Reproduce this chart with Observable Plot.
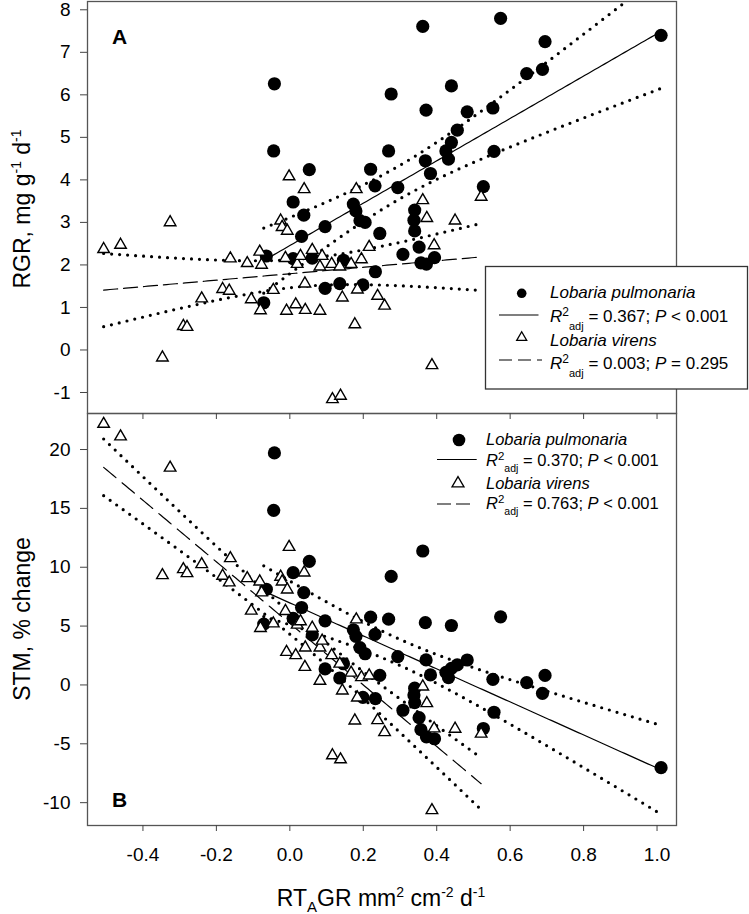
<!DOCTYPE html>
<html>
<head>
<meta charset="utf-8">
<script src="https://cdn.jsdelivr.net/npm/d3@7"></script>
<script src="https://cdn.jsdelivr.net/npm/@observablehq/plot@0.6"></script>
<style>
  body { margin: 0; background: #fff; }
  #fig { position: relative; width: 749px; height: 914px; font-family: "Liberation Sans", Arial, sans-serif; }
  #fig > svg { position: absolute; left: 0; }
</style>
</head>
<body>
<div id="fig"></div>
<script>
// Relative thallus area growth rate (RTAGR) for each thallus
const pulmonariaRTAGR = [-0.071, -0.064, -0.042, -0.044, 0.009, 0.009, 0.032, 0.038, 0.053, 0.061,
  0.096, 0.096, 0.136, 0.146, 0.173, 0.180, 0.191, 0.199, 0.205, 0.220,
  0.232, 0.233, 0.245, 0.269, 0.276, 0.294, 0.308, 0.340, 0.338, 0.340,
  0.352, 0.357, 0.362, 0.372, 0.369, 0.371, 0.383, 0.394, 0.425, 0.432,
  0.440, 0.440, 0.456, 0.483, 0.527, 0.553, 0.556, 0.574, 0.645, 0.688,
  0.695, 1.011];
// Relative growth rate (mg g-1 d-1)
const pulmonariaRGR = [1.11, 2.21, 6.26, 4.68, 3.48, 2.15, 2.67, 3.17, 4.24, 2.16,
  2.90, 1.45, 1.56, 2.11, 3.43, 3.27, 3.04, 1.53, 3.00, 4.25,
  3.86, 1.84, 2.74, 4.68, 6.02, 3.82, 2.25, 3.29, 3.05, 2.80,
  2.42, 2.05, 7.61, 2.02, 4.45, 5.64, 4.15, 2.17, 4.68, 4.49,
  4.88, 6.21, 5.17, 5.60, 3.84, 5.69, 4.67, 7.80, 6.50, 6.60,
  7.25, 7.40];
// Specific thallus mass, % change
const pulmonariaSTM = [5.17, 8.13, 19.71, 14.83, 9.54, 5.66, 6.58, 7.85, 10.50, 4.25,
  5.45, 1.36, 0.59, 1.80, 4.68, 4.13, 3.17, -1.05, 2.65, 5.76,
  4.29, -1.16, 0.82, 5.59, 9.22, 2.40, -2.15, -0.27, -0.85, -1.50,
  -2.78, -3.80, 11.38, -4.41, 5.29, 2.13, 0.85, -4.57, 1.07, 0.62,
  1.41, 5.05, 1.70, 2.12, -3.70, 0.48, -2.32, 5.79, 0.20, -0.71,
  0.81, -7.03];

const virensRTAGR = [-0.507, -0.461, -0.326, -0.347, -0.290, -0.280, -0.240, -0.183, -0.165, -0.162,
  -0.116, -0.105, -0.082, -0.077, -0.080, -0.045, -0.025, -0.021, -0.007, -0.002,
  -0.012, -0.009, 0.016, 0.020, 0.029, 0.039, 0.041, 0.042, 0.061, 0.082,
  0.088, 0.082, 0.114, 0.116, 0.136, 0.138, 0.143, 0.167, 0.177, 0.181,
  0.184, 0.195, 0.216, 0.239, 0.258, 0.362, 0.373, 0.387, 0.393, 0.450,
  0.521];
const virensRGR = [2.37, 2.47, 3.00, -0.18, 0.56, 0.54, 1.21, 1.43, 1.39, 2.15,
  2.04, 1.19, 2.31, 2.00, 0.93, 1.41, 3.04, 2.89, 2.80, 4.08,
  2.16, 0.92, 1.07, 2.02, 2.21, 3.78, 1.56, 0.94, 2.35, 1.96,
  2.21, 0.92, 2.02, -1.16, 1.96, -1.08, 1.23, 2.02, 0.60, 3.78,
  1.42, 2.13, 2.42, 1.27, 1.04, 3.52, 3.10, -0.36, 2.46, 3.04,
  3.60];
const virensSTM = [22.17, 21.10, 18.45, 9.32, 9.83, 9.49, 10.25, 9.26, 8.70, 10.76,
  9.06, 6.30, 8.78, 7.85, 4.83, 5.22, 9.18, 8.78, 8.10, 11.72,
  6.27, 2.80, 2.52, 5.11, 5.40, 9.54, 1.52, 3.17, 4.85, 3.17,
  3.75, 0.34, 2.52, -5.99, 1.80, -6.33, -0.48, 1.03, -3.03, 5.56,
  -1.08, 0.65, 0.79, -3.00, -4.02, -0.14, -1.56, -10.65, -3.70, -3.73,
  -4.15];

// Axis ticks
const xTicks = [-0.4, -0.2, 0.0, 0.2, 0.4, 0.6, 0.8, 1.0];
const rgrTicks = [-1, 0, 1, 2, 3, 4, 5, 6, 7, 8];
const stmTicks = [-10, -5, 0, 5, 10, 15, 20];

// Fit statistics printed in the legends
const rgrStats = [["0.367", "<", "0.001"], ["0.003", "=", "0.295"]];
const stmStats = [["0.370", "<", "0.001"], ["0.763", "<", "0.001"]];

const T95 = 2.01; // two-sided 95% Student t, ~50 degrees of freedom
const FONT = "Liberation Sans, Arial, sans-serif";

// Least-squares line with 95% confidence band for the mean response
function regression(xs, ys) {
  const n = xs.length;
  const mx = d3.mean(xs), my = d3.mean(ys);
  const sxx = d3.sum(xs, x => (x - mx) ** 2);
  const sxy = d3.sum(xs, (x, i) => (x - mx) * (ys[i] - my));
  const b = sxy / sxx, a = my - b * mx;
  const s = Math.sqrt(d3.sum(xs, (x, i) => (ys[i] - a - b * x) ** 2) / (n - 2));
  const [x0, x1] = d3.extent(xs);
  return d3.range(121).map(i => {
    const x = x0 + (x1 - x0) * i / 120;
    const yhat = a + b * x;
    const h = T95 * s * Math.sqrt(1 / n + (x - mx) ** 2 / sxx);
    return {x, yhat, lo: yhat - h, hi: yhat + h};
  });
}

const rows = (xs, ys) => xs.map((x, i) => ({x, y: ys[i]}));

const dotted = {stroke: "#000", strokeWidth: 3.2, strokeDasharray: "0 8", strokeLinecap: "round", clip: true};

function panel({yDomain, yTicks, pulY, virY, height, marginTop, marginBottom, dash, xAxis}) {
  const pf = regression(pulmonariaRTAGR, pulY);
  const vf = regression(virensRTAGR, virY);
  return Plot.plot({
    width: 749, height, marginLeft: 87, marginRight: 73, marginTop, marginBottom,
    x: {domain: [-0.551, 1.053]},
    y: {domain: yDomain},
    style: {background: "none", overflow: "visible", fontFamily: FONT},
    marks: [
      Plot.line(vf, {x: "x", y: "lo", ...dotted}),
      Plot.line(vf, {x: "x", y: "hi", ...dotted}),
      Plot.line(vf, {x: "x", y: "yhat", stroke: "#000", strokeWidth: 1.2, strokeDasharray: dash, clip: true}),
      Plot.line(pf, {x: "x", y: "lo", ...dotted}),
      Plot.line(pf, {x: "x", y: "hi", ...dotted}),
      Plot.line(pf, {x: "x", y: "yhat", stroke: "#000", strokeWidth: 1.2, clip: true}),
      Plot.dot(rows(pulmonariaRTAGR, pulY), {x: "x", y: "y", r: 6.6, fill: "#000", stroke: "none"}),
      Plot.dot(rows(virensRTAGR, virY), {x: "x", y: "y", symbol: "triangle", r: 4.3, fill: "#fff", stroke: "#000", strokeWidth: 1.4}),
      Plot.frame({stroke: "#555", strokeWidth: 1.3}),
      Plot.axisY(yTicks, {tickSize: 7, tickPadding: 10, fontSize: 19, stroke: "#444", tickFormat: d => String(d), label: null}),
      xAxis
    ]
  });
}

const fig = document.getElementById("fig");

// Panel B: STM, with the shared RTAGR axis underneath
const svgB = panel({
  yDomain: [-11.94, 23.06], yTicks: stmTicks, pulY: pulmonariaSTM, virY: virensSTM,
  height: 501, marginTop: 0, marginBottom: 89, dash: "16 8",
  xAxis: Plot.axisX(xTicks, {anchor: "bottom", tickSize: 6, tickPadding: 16, fontSize: 19, stroke: "#444", tickFormat: d => d.toFixed(1), label: null})
});
svgB.style.top = "413px";
fig.appendChild(svgB);

// Panel A: RGR, ticks only on its lower edge
const svgA = panel({
  yDomain: [-1.494, 8.195], yTicks: rgrTicks, pulY: pulmonariaRGR, virY: virensRGR,
  height: 420, marginTop: 1, marginBottom: 7, dash: "14 6",
  xAxis: Plot.axisX(xTicks, {anchor: "bottom", tickSize: 6, stroke: "#444", tickFormat: () => "", label: null})
});
svgA.style.top = "0px";
fig.appendChild(svgA);

// Annotation layer: axis titles, panel letters and legends
function statLine(x, y, size, subSize, drop, [r2, op, p]) {
  return `<text x="${x}" y="${y}" font-size="${size}"><tspan font-style="italic">R</tspan><tspan dy="-6" font-size="${subSize}">2</tspan><tspan dy="${6 + drop}" font-size="${subSize - 1}">adj</tspan><tspan dy="${-drop}"> = ${r2}; </tspan><tspan font-style="italic">P</tspan><tspan> ${op === "<" ? "&lt;" : op} ${p}</tspan></text>`;
}
function tri(cx, cy, side) {
  const h = side * Math.sqrt(3) / 2;
  return `<path d="M${cx},${cy - h * 2 / 3}L${cx + side / 2},${cy + h / 3}L${cx - side / 2},${cy + h / 3}Z" fill="#fff" stroke="#000" stroke-width="1.3"/>`;
}

const overlay = `
<svg width="749" height="914" style="top:0" font-family="${FONT}" fill="#000">
  <text transform="translate(30,209) rotate(-90)" text-anchor="middle" font-size="23">RGR, mg g<tspan dy="-9" font-size="14">-1</tspan><tspan dy="9"> d</tspan><tspan dy="-9" font-size="14">-1</tspan></text>
  <text transform="translate(30,619) rotate(-90)" text-anchor="middle" font-size="23">STM, % change</text>
  <text x="381" y="906" text-anchor="middle" font-size="23">RT<tspan dy="6" font-size="15">A</tspan><tspan dy="-6">GR mm</tspan><tspan dy="-9" font-size="14">2</tspan><tspan dy="9"> cm</tspan><tspan dy="-9" font-size="14">-2</tspan><tspan dy="9"> d</tspan><tspan dy="-9" font-size="14">-1</tspan></text>
  <text x="112" y="43.5" font-size="21" font-weight="bold">A</text>
  <text x="112" y="806.5" font-size="21" font-weight="bold">B</text>

  <rect x="485.5" y="266.5" width="262" height="122.5" fill="#fff" stroke="#333" stroke-width="1.3"/>
  <circle cx="521.7" cy="293.3" r="4.8" fill="#000"/>
  <text x="550" y="298" font-size="17" font-style="italic">Lobaria pulmonaria</text>
  <line x1="499" x2="538.5" y1="315" y2="315" stroke="#000" stroke-width="1.2"/>
  ${statLine(550, 321.7, 17, 12, 8, rgrStats[0])}
  ${tri(521.7, 337.5, 10)}
  <text x="550" y="345.5" font-size="17" font-style="italic">Lobaria virens</text>
  <line x1="499" x2="542" y1="360" y2="360" stroke="#000" stroke-width="1.2" stroke-dasharray="13 6"/>
  ${statLine(550, 369.3, 17, 12, 8, rgrStats[1])}

  <circle cx="459" cy="440" r="6.3" fill="#000"/>
  <text x="486" y="445" font-size="16.5" font-style="italic">Lobaria pulmonaria</text>
  <line x1="437" x2="476.7" y1="459.5" y2="459.5" stroke="#000" stroke-width="1.2"/>
  ${statLine(486, 466, 16.5, 11.5, 6, stmStats[0])}
  ${tri(458, 483.5, 12)}
  <text x="486" y="489" font-size="16.5" font-style="italic">Lobaria virens</text>
  <line x1="437" x2="470" y1="504" y2="504" stroke="#000" stroke-width="1.2" stroke-dasharray="14 5"/>
  ${statLine(486, 509.3, 16.5, 11.5, 6, stmStats[1])}
</svg>`;
fig.insertAdjacentHTML("beforeend", overlay);
</script>
</body>
</html>
